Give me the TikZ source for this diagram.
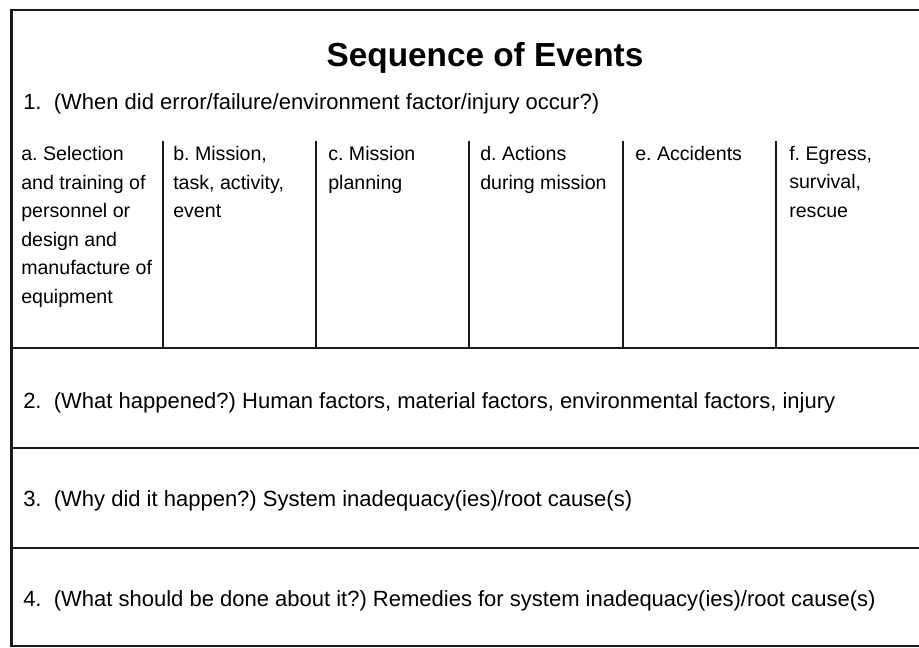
\documentclass[tikz,border=0pt]{standalone}
\usepackage{fontspec}
\setmainfont{Liberation Sans}
\frenchspacing
\begin{document}
\begin{tikzpicture}[x=0.75pt,y=-0.75pt,
  frame/.style={line width=2.2pt,black!90},
  body/.style={font=\fontsize{14.7}{21.4}\selectfont,inner sep=0pt,align=left},
  coltext/.style={body,anchor=north west},
  rowtext/.style={font=\fontsize{16.5}{20}\selectfont,inner sep=0pt,anchor=base west},
  titletext/.style={font=\fontsize{25}{30}\selectfont\bfseries,inner sep=0pt,anchor=base}]
\useasboundingbox (0,0) rectangle (919,648);
% frame
\coordinate (tl) at (11.5,10);
\coordinate (tr) at (919,10);
\coordinate (bl) at (11.5,646);
\coordinate (br) at (919,646);
\draw[frame] (tr) -- (tl) -- (bl) -- (br);
% horizontal dividers
\foreach \y/\n in {348/h1,448/h2,548/h3}{
  \coordinate (\n l) at (11.5,\y);
  \coordinate (\n r) at (919,\y);
  \draw[frame] (\n l) -- (\n r);
}
% column dividers
\foreach \x/\n in {163/v1,316/v2,469/v3,623/v4,776/v5}{
  \coordinate (\n t) at (\x,141);
  \coordinate (\n b) at (\x,348);
  \draw[frame] (\n t) -- (\n b);
}
% title
\node[titletext] (title) at (485,67) {Sequence of Events};
\node[rowtext] (q1) at (23,110) {1.\ \ (When did error/failure/environment factor/injury occur?)};
% columns
\node[coltext] (ca) at (21,146) {a. Selection\\and training of\\personnel or\\design and\\manufacture of\\equipment};
\node[coltext] (cb) at (173,146) {b. Mission,\\task, activity,\\event};
\node[coltext] (cc) at (328,146) {c. Mission\\planning};
\node[coltext] (cd) at (480,146) {d. Actions\\during mission};
\node[coltext] (ce) at (635,146) {e. Accidents};
\node[coltext] (cf) at (789,146) {f. Egress,\\survival,\\rescue};
% rows
\node[rowtext] (q2) at (23,408) {2.\ \ (What happened?) Human factors, material factors, environmental factors, injury};
\node[rowtext] (q3) at (23,506) {3.\ \ (Why did it happen?) System inadequacy(ies)/root cause(s)};
\node[rowtext] (q4) at (23,606) {4.\ \ (What should be done about it?) Remedies for system inadequacy(ies)/root cause(s)};
\end{tikzpicture}
\end{document}
